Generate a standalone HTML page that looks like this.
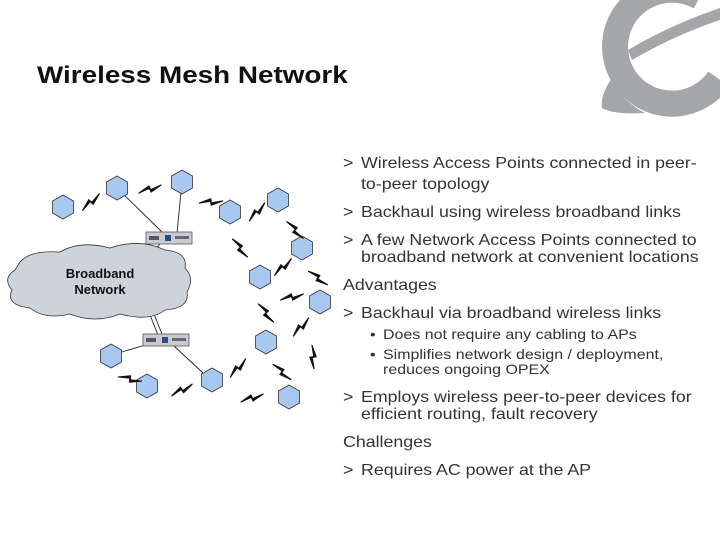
<!DOCTYPE html>
<html><head><meta charset="utf-8"><style>
body{margin:0;width:720px;height:540px;background:#fff;overflow:hidden;position:relative;font-family:"Liberation Sans",sans-serif;color:#333}
.t{position:absolute;white-space:nowrap;font-size:16px;line-height:17px;transform:scaleX(1.11);transform-origin:0 0}
.s{position:absolute;white-space:nowrap;font-size:14px;line-height:15px;transform:scaleX(1.14);transform-origin:0 0}
.title{position:absolute;left:37px;top:62px;white-space:nowrap;font-size:24px;font-weight:bold;color:#111;transform:scaleX(1.16);transform-origin:0 0}
</style></head><body>
<svg width="720" height="540" style="position:absolute;left:0;top:0">
<defs>
<polygon id="h" points="0,-12 10.5,-6 10.5,6 0,12 -10.5,6 -10.5,-6" fill="#a9c8f0" stroke="#333" stroke-width="0.8"/>
<path id="b" d="M-11,4 L-1,-3 L0,1 L11,-4 L1,3 L0,-1 Z" fill="#111" stroke="#111" stroke-width="1.2" stroke-linejoin="round"/>
<g id="srv"><rect x="-23" y="-6" width="46" height="12" fill="#c8ccd0" stroke="#555" stroke-width="0.8"/><rect x="-20" y="-2" width="10" height="4" fill="#556"/><rect x="-4" y="-3" width="6" height="6" fill="#2a4a8a"/><rect x="6" y="-2" width="14" height="3" fill="#667"/></g>
</defs>
<!-- logo -->
<g fill="#a4a6a9">
<path d="M719,79 A57,57 0 1 1 700,-3" fill="none" stroke="#a4a6a9" stroke-width="26"/>
<path d="M628,50 Q670,25 720,8 L720,20 Q675,35 632,60 Z"/>
<path d="M612,78 Q600,95 602,108 Q615,115 645,113 Q620,100 612,78 Z"/>
</g>
<!-- lines -->
<g stroke="#222" stroke-width="0.9" fill="none">
<line x1="117" y1="188" x2="163" y2="233"/>
<line x1="182" y1="182" x2="177" y2="233"/>
<line x1="160" y1="244" x2="146" y2="260"/>
<line x1="150" y1="315" x2="158" y2="335"/><line x1="154" y1="314" x2="162" y2="334"/>
<line x1="152" y1="343" x2="122" y2="352"/>
<line x1="173" y1="345" x2="203" y2="373"/>
</g>
<!-- cloud -->
<path d="M20,262 Q30,250 60,252 Q80,240 110,248 Q140,238 165,250 Q188,252 185,268 Q195,278 187,292 Q190,308 165,310 Q150,322 120,314 Q95,324 70,314 Q45,320 30,308 Q5,305 12,290 Q2,278 15,270 Z" fill="#cdd3d9" stroke="#333" stroke-width="0.8"/>
<text x="100" y="278" text-anchor="middle" font-family="Liberation Sans" font-weight="bold" font-size="13" fill="#111">Broadband</text>
<text x="100" y="294" text-anchor="middle" font-family="Liberation Sans" font-weight="bold" font-size="13" fill="#111">Network</text>
<use href="#srv" x="169" y="238"/>
<use href="#srv" x="166" y="340"/>
<g>
<use href="#h" x="63" y="207"/><use href="#h" x="117" y="188"/><use href="#h" x="182" y="182"/>
<use href="#h" x="230" y="212"/><use href="#h" x="278" y="200"/><use href="#h" x="302" y="248"/>
<use href="#h" x="260" y="277"/><use href="#h" x="320" y="302"/><use href="#h" x="266" y="342"/>
<use href="#h" x="111" y="356"/><use href="#h" x="147" y="386"/><use href="#h" x="212" y="380"/>
<use href="#h" x="289" y="397"/>
</g>
<g>
<use href="#b" transform="translate(91,202) rotate(-25)"/>
<use href="#b" transform="translate(150,189)"/>
<use href="#b" transform="translate(211,202) rotate(15)"/>
<use href="#b" transform="translate(257,212) rotate(-30)"/>
<use href="#b" transform="translate(295,230) rotate(65)"/>
<use href="#b" transform="translate(240,248) rotate(70)"/>
<use href="#b" transform="translate(283,267) rotate(-25)"/>
<use href="#b" transform="translate(318,278) rotate(55)"/>
<use href="#b" transform="translate(292,297) rotate(5)"/>
<use href="#b" transform="translate(266,313) rotate(70)"/>
<use href="#b" transform="translate(301,327) rotate(-30)"/>
<use href="#b" transform="translate(313,357) rotate(-75)"/>
<use href="#b" transform="translate(238,368) rotate(-30)"/>
<use href="#b" transform="translate(282,372) rotate(60)"/>
<use href="#b" transform="translate(130,379) rotate(30)"/>
<use href="#b" transform="translate(182,390) rotate(-10)"/>
<use href="#b" transform="translate(252,398)"/>
</g>
</svg>
<div class="title">Wireless Mesh Network</div>
<div class="t" style="left:343px;top:155px">&gt;</div><div class="t" style="left:361px;top:155px">Wireless Access Points connected in peer-</div>
<div class="t" style="left:361px;top:176px">to-peer topology</div>
<div class="t" style="left:343px;top:204px">&gt;</div><div class="t" style="left:361px;top:204px">Backhaul using wireless broadband links</div>
<div class="t" style="left:343px;top:232px">&gt;</div><div class="t" style="left:361px;top:232px">A few Network Access Points connected to</div>
<div class="t" style="left:361px;top:249px">broadband network at convenient locations</div>
<div class="t" style="left:343px;top:277px">Advantages</div>
<div class="t" style="left:343px;top:305px">&gt;</div><div class="t" style="left:361px;top:305px">Backhaul via broadband wireless links</div>
<div class="s" style="left:370px;top:327px">•</div><div class="s" style="left:383px;top:327px">Does not require any cabling to APs</div>
<div class="s" style="left:370px;top:347px">•</div><div class="s" style="left:383px;top:347px">Simplifies network design / deployment,</div>
<div class="s" style="left:383px;top:362px">reduces ongoing OPEX</div>
<div class="t" style="left:343px;top:389px">&gt;</div><div class="t" style="left:361px;top:389px">Employs wireless peer-to-peer devices for</div>
<div class="t" style="left:361px;top:406px">efficient routing, fault recovery</div>
<div class="t" style="left:343px;top:434px">Challenges</div>
<div class="t" style="left:343px;top:462px">&gt;</div><div class="t" style="left:361px;top:462px">Requires AC power at the AP</div>
</body></html>
